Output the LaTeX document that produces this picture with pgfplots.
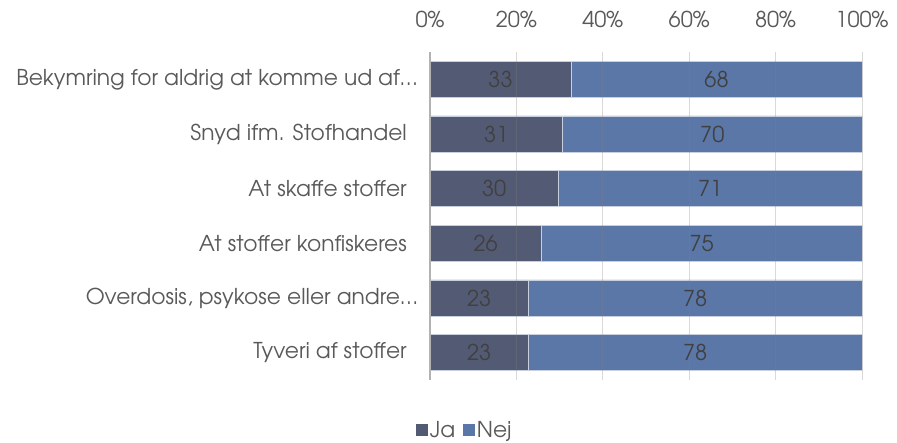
\documentclass[border=0pt]{standalone}
\usepackage{pgfplots}
\pgfplotsset{compat=1.18}
\usepackage{pgfplotstable}
\usepackage{fontspec}
\setmainfont{texgyreadventor-regular.otf}
\definecolor{ja}{HTML}{535A73}
\definecolor{nej}{HTML}{5B77A8}
\definecolor{txt}{HTML}{595959}
\definecolor{lbl}{HTML}{404040}
\definecolor{edge}{HTML}{C8D0E0}
\newcommand\fs{\fontsize{21.8}{26}\selectfont}
\pgfplotstableread{
y ja nej jal nejl
0 32.67 67.33 33 68
1 30.69 69.31 31 70
2 29.70 70.30 30 71
3 25.74 74.26 26 75
4 22.77 77.23 23 78
5 22.77 77.23 23 78
}\data
\begin{document}
\begin{tikzpicture}
\path (0,0) rectangle (897pt,441pt);
\begin{axis}[
 at={(430pt,61pt)}, anchor=south west,
 scale only axis, width=432pt, height=328pt,
 xbar stacked, bar width=36pt,
 xmin=0, xmax=100, ymin=-0.5, ymax=5.5, y dir=reverse,
 ytick={0,1,2,3,4,5},
 yticklabels={{Bekymring for aldrig at komme ud af…},{Snyd ifm. Stofhandel\hspace*{11pt}},{At skaffe stoffer\hspace*{11pt}},{At stoffer konfiskeres\hspace*{11pt}},{Overdosis, psykose eller andre…},{Tyveri af stoffer\hspace*{11pt}}},
 xtick={0,20,40,60,80,100},
 xticklabel={\pgfmathprintnumber{\tick}\%},
 /pgf/number format/assume math mode=true,
 xticklabel pos=upper,
 major tick length=0pt,
 xticklabel style={anchor=base, yshift=24pt, inner sep=0pt, text=txt, font=\fs},
 yticklabel style={anchor=east, xshift=-12pt, inner sep=0pt, text=txt, font=\fs},
 axis line style={draw=none},
 xmajorgrids,
 grid style={draw=black!50, opacity=0.3, line width=0.9pt},
 extra x ticks={0},
 extra x tick labels={},
 extra x tick style={grid style={draw=black!30, opacity=1, line width=1.2pt}},
 axis on top,
 legend style={at={(0.081,-0.152)}, anchor=center, draw=none, fill=none, legend columns=2, font=\fs, text=txt, /tikz/every even column/.append style={column sep=6pt}},
 legend cell align=left,
 nodes near coords,
 point meta=explicit symbolic,
 every node near coord/.style={anchor=center, text=lbl, font=\fs},
]
\addplot[fill=ja, draw=edge, line width=0.6pt,
 legend image code/.code={\fill[ja] (0pt,-5pt) rectangle (11pt,6pt);}]
 table[x=ja, y=y, meta=jal] {\data};
\addlegendentry{Ja}
\addplot[fill=nej, draw=edge, line width=0.6pt,
 legend image code/.code={\fill[nej] (0pt,-5pt) rectangle (11pt,6pt);}]
 table[x=nej, y=y, meta=nejl] {\data};
\addlegendentry{Nej}
\end{axis}
\end{tikzpicture}
\end{document}
